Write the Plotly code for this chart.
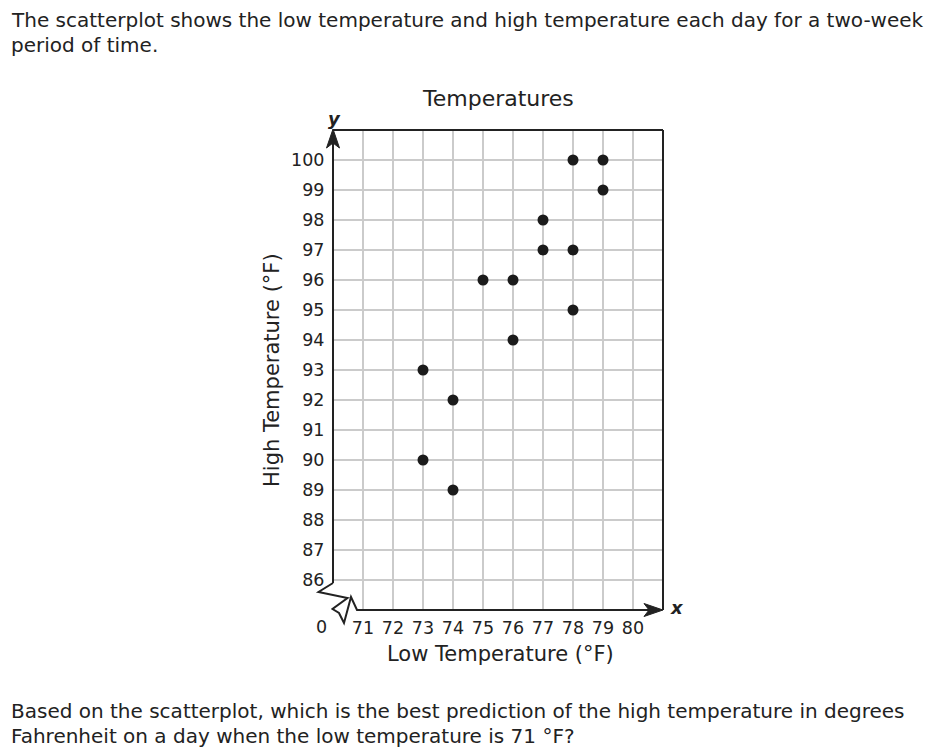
import plotly.graph_objects as go

# ---- data ----
low_temps = [73, 73, 74, 74, 75, 76, 76, 77, 77, 78, 78, 78, 79, 79]
high_temps = [93, 90, 92, 89, 96, 96, 94, 98, 97, 100, 97, 95, 100, 99]
x_ticks = [71, 72, 73, 74, 75, 76, 77, 78, 79, 80]
y_ticks = [86, 87, 88, 89, 90, 91, 92, 93, 94, 95, 96, 97, 98, 99, 100]

OFF = 8  # page body margin
FIG_W, FIG_H = 934 - OFF, 756 - OFF
# plot area in page pixel coordinates
L, R_EDGE, T, B_EDGE = 333, 663, 130, 610
W, H = R_EDGE - L, B_EDGE - T
FONT = "DejaVu Sans, Verdana, sans-serif"
INK = "#222222"
TICK_SIZE = 17.5


def px(x):
    return (x - L) / W


def py(y):
    return (B_EDGE - y) / H


fig = go.Figure()
fig.add_trace(go.Scatter(
    x=low_temps, y=high_temps, mode="markers",
    marker=dict(size=11, color="#1a1a1a"),
    hoverinfo="x+y", showlegend=False,
))

fig.update_layout(
    width=FIG_W, height=FIG_H,
    margin=dict(l=L - OFF, r=934 - R_EDGE, t=T - OFF, b=756 - B_EDGE, pad=0),
    paper_bgcolor="white", plot_bgcolor="white",
    font=dict(family=FONT, color=INK, size=16),
    xaxis=dict(range=[70, 81], tickvals=x_ticks, ticktext=[str(v) for v in x_ticks],
               showgrid=True, gridcolor="#cbcbcb", gridwidth=2, zeroline=False,
               showline=False, ticks="outside", ticklen=2, tickcolor="rgba(0,0,0,0)",
               tickfont=dict(size=TICK_SIZE, family=FONT, color=INK), fixedrange=True),
    yaxis=dict(range=[85, 101], tickvals=y_ticks, ticktext=[str(v) for v in y_ticks],
               showgrid=True, gridcolor="#cbcbcb", gridwidth=2, zeroline=False,
               showline=False, ticks="outside", ticklen=4, tickcolor="rgba(0,0,0,0)",
               tickfont=dict(size=TICK_SIZE, family=FONT, color=INK), fixedrange=True),
)

line = dict(color=INK, width=2)
shapes = [
    # top border
    dict(type="line", xref="paper", yref="paper", x0=px(L), x1=px(R_EDGE), y0=py(T), y1=py(T), line=line),
    # right border
    dict(type="line", xref="paper", yref="paper", x0=px(R_EDGE), x1=px(R_EDGE), y0=py(T), y1=py(B_EDGE), line=line),
    # y axis line
    dict(type="line", xref="paper", yref="paper", x0=px(L), x1=px(L), y0=py(T + 4), y1=py(583), line=line),
    # axis break + x axis line
    dict(type="path", xref="paper", yref="paper", line=line,
         path=("M {},{} L {},{} L {},{} L {},{} L {},{} L {},{} L {},{} L {},{} L {},{}".format(
             px(333), py(583), px(318.5), py(592), px(347.5), py(598), px(332.5), py(609),
             px(339), py(613), px(344), py(623), px(351), py(597), px(357), py(610),
             px(650), py(610)))),
    # y arrowhead
    dict(type="path", xref="paper", yref="paper", line=dict(color=INK, width=1), fillcolor=INK,
         path="M {},{} L {},{} L {},{} L {},{} Z".format(
             px(333), py(129), px(326.5), py(148), px(333), py(143), px(339.5), py(148))),
    # x arrowhead
    dict(type="path", xref="paper", yref="paper", line=dict(color=INK, width=1), fillcolor=INK,
         path="M {},{} L {},{} L {},{} L {},{} Z".format(
             px(663), py(610), px(644), py(603.5), px(649), py(610), px(644), py(616.5))),
]
fig.update_layout(shapes=shapes)


def note(text, x, y, size=18, xanchor="center", **kw):
    fig.add_annotation(text=text, xref="paper", yref="paper", x=px(x), y=py(y),
                       xanchor=xanchor, yanchor="middle", showarrow=False,
                       font=dict(family=FONT, size=size, color=INK), **kw)


note("The scatterplot shows the low temperature and high temperature each day for a two-week",
     9, 20, size=20, xanchor="left")
note("period of time.", 9, 45, size=20, xanchor="left")
note("Temperatures", 498, 99, size=22)
note("Low Temperature (°F)", 500, 654, size=21)
note("High Temperature (°F)", 272, 370, size=21, textangle=-90)
note("0", 321, 627, size=TICK_SIZE)
note("<b><i>y</i></b>", 334, 119, size=18)
note("<b><i>x</i></b>", 677, 607, size=18)
note("Based on the scatterplot, which is the best prediction of the high temperature in degrees",
     9, 711, size=20, xanchor="left")
note("Fahrenheit on a day when the low temperature is 71 °F?", 9, 736, size=20, xanchor="left")

fig.write_html("out.html")
